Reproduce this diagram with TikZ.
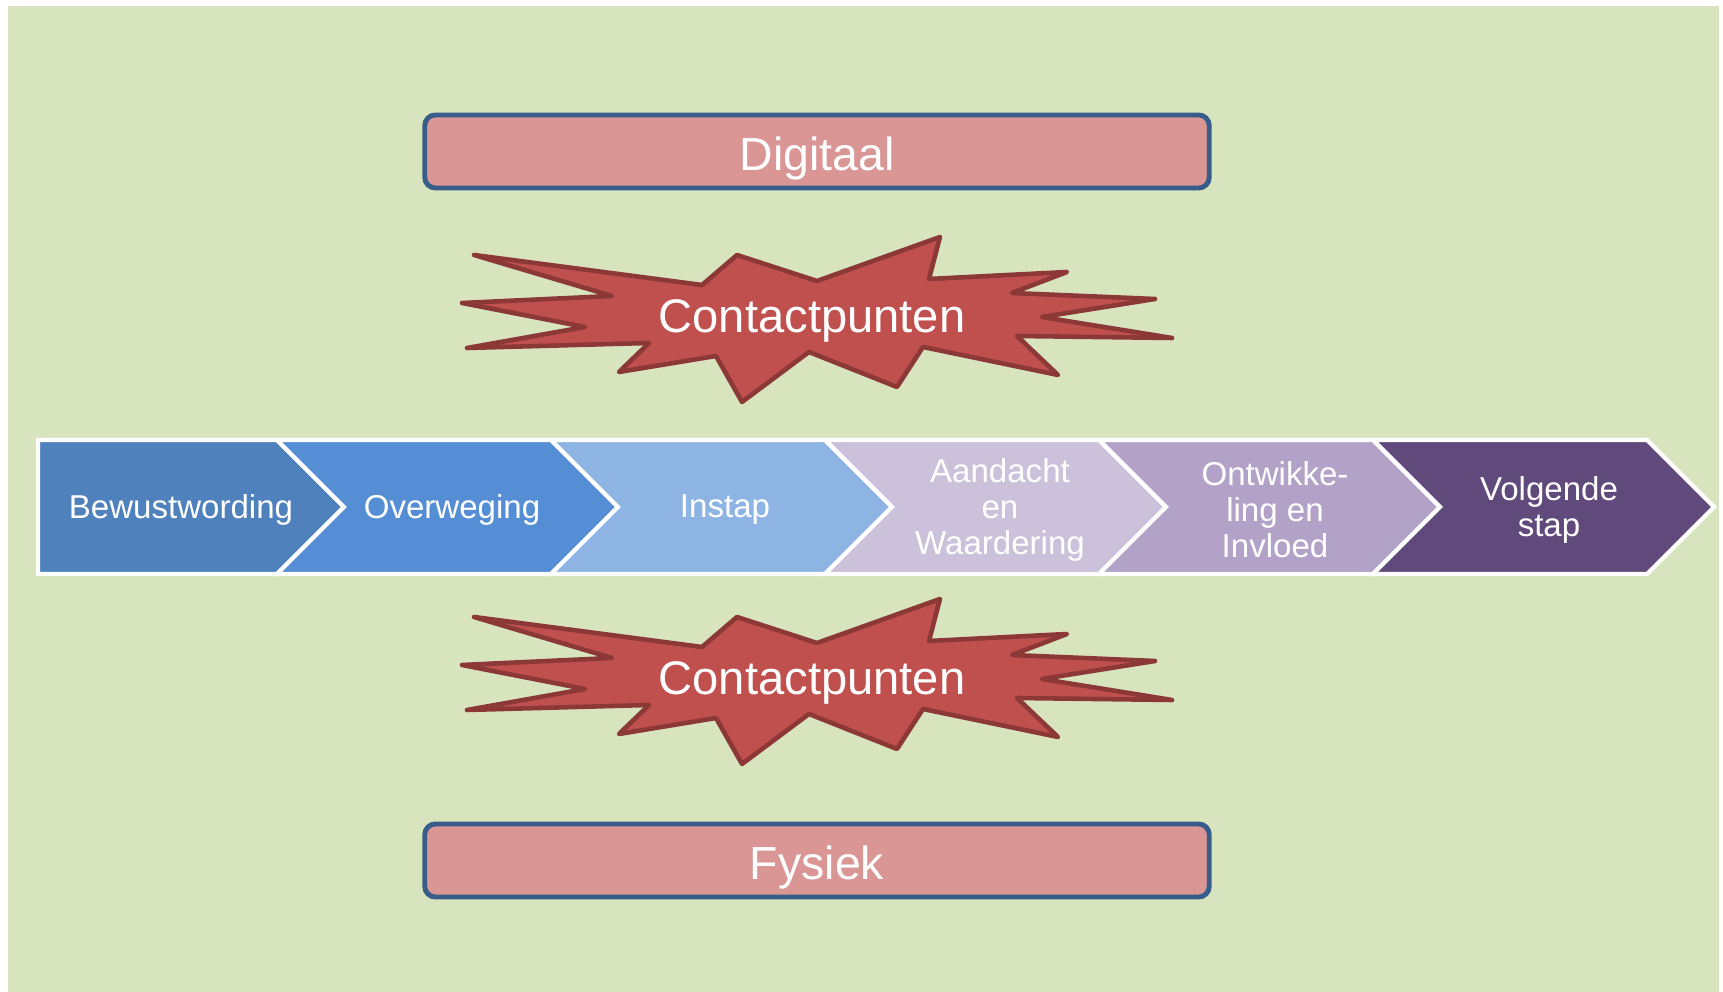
\documentclass[tikz,border=0pt]{standalone}
\usepackage{fontspec}
\setmainfont{Liberation Sans}
\definecolor{bggreen}{HTML}{D7E4BD}
\definecolor{barpink}{HTML}{D99694}
\definecolor{barblue}{HTML}{385D8A}
\definecolor{burstred}{HTML}{C0504D}
\definecolor{burstdark}{HTML}{8C3836}
\definecolor{chevA}{HTML}{4F81BD}
\definecolor{chevB}{HTML}{558ED5}
\definecolor{chevC}{HTML}{8EB4E3}
\definecolor{chevD}{HTML}{CCC1DA}
\definecolor{chevE}{HTML}{B3A2C7}
\definecolor{chevF}{HTML}{604A7B}
\tikzset{
  bar/.style={draw=barblue, fill=barpink, line width=1.4pt, rounded corners=3pt,
    minimum width=7.84cm, minimum height=0.73cm, inner sep=0pt,
    text height=10.9pt, text depth=0pt,
    text=white, font=\fontsize{13.2}{15}\selectfont},
  bigtext/.style={text=white, inner sep=0pt, anchor=base, font=\fontsize{13.4}{15}\selectfont},
  steptext/.style={text=white, align=center, inner sep=0pt, font=\fontsize{9.4}{10.2}\selectfont},
  chev/.style={draw=white, line width=1.2pt, line join=miter},
  contactster/.pic={
    \path[draw=burstdark, fill=burstred, line width=1.3pt, line join=round]
      (474,255) -- (702,285) -- (737,255) -- (817,281) -- (940,237) -- (929,279)
      -- (1067,272) -- (1012,293) -- (1155,299) -- (1042,317) -- (1172,338)
      -- (1017,336) -- (1058,375) -- (923,347) -- (897,387) -- (809,352)
      -- (742,402) -- (716,356) -- (619,372) -- (649,343) -- (467,348)
      -- (585,327) -- (462,303) -- (612,296) -- cycle;
  }
}
\begin{document}
\begin{tikzpicture}[x=0.01cm,y=-0.01cm]
\useasboundingbox (0,0) rectangle (1723,992);
\fill[bggreen] (8,6) rectangle (1719,992);

\node[bar] (digitaal) at (817,151.5) {Digitaal};
\node[bar] (fysiek) at (817,860.5) {Fysiek};

\pic at (0,0) {contactster};
\pic at (0,362) {contactster};
\node[bigtext] (cpboven) at (812,333) {Contactpunten};
\node[bigtext] (cponder) at (812,695) {Contactpunten};

% fasen
\path[chev, fill=chevA] (38,440) -- (277,440) -- (344,507) -- (277,574) -- (38,574) -- cycle;
\path[chev, fill=chevB] (277,440) -- (551,440) -- (618,507) -- (551,574) -- (277,574) -- (344,507) -- cycle;
\path[chev, fill=chevC] (551,440) -- (825,440) -- (892,507) -- (825,574) -- (551,574) -- (618,507) -- cycle;
\path[chev, fill=chevD] (825,440) -- (1099,440) -- (1166,507) -- (1099,574) -- (825,574) -- (892,507) -- cycle;
\path[chev, fill=chevE] (1099,440) -- (1373,440) -- (1440,507) -- (1373,574) -- (1099,574) -- (1166,507) -- cycle;
\path[chev, fill=chevF] (1373,440) -- (1647,440) -- (1714,507) -- (1647,574) -- (1373,574) -- (1440,507) -- cycle;

\node[steptext] (f1) at (181,510) {Bewustwording};
\node[steptext] (f2) at (452,510) {Overweging};
\node[steptext] (f3) at (725,510) {Instap};
\node[steptext] (f4) at (1000,510) {Aandacht\\en\\Waardering};
\node[steptext] (f5) at (1275,510) {Ontwikke-\\ling en\\Invloed};
\node[steptext] (f6) at (1549,510) {Volgende\\stap};
\end{tikzpicture}
\end{document}
